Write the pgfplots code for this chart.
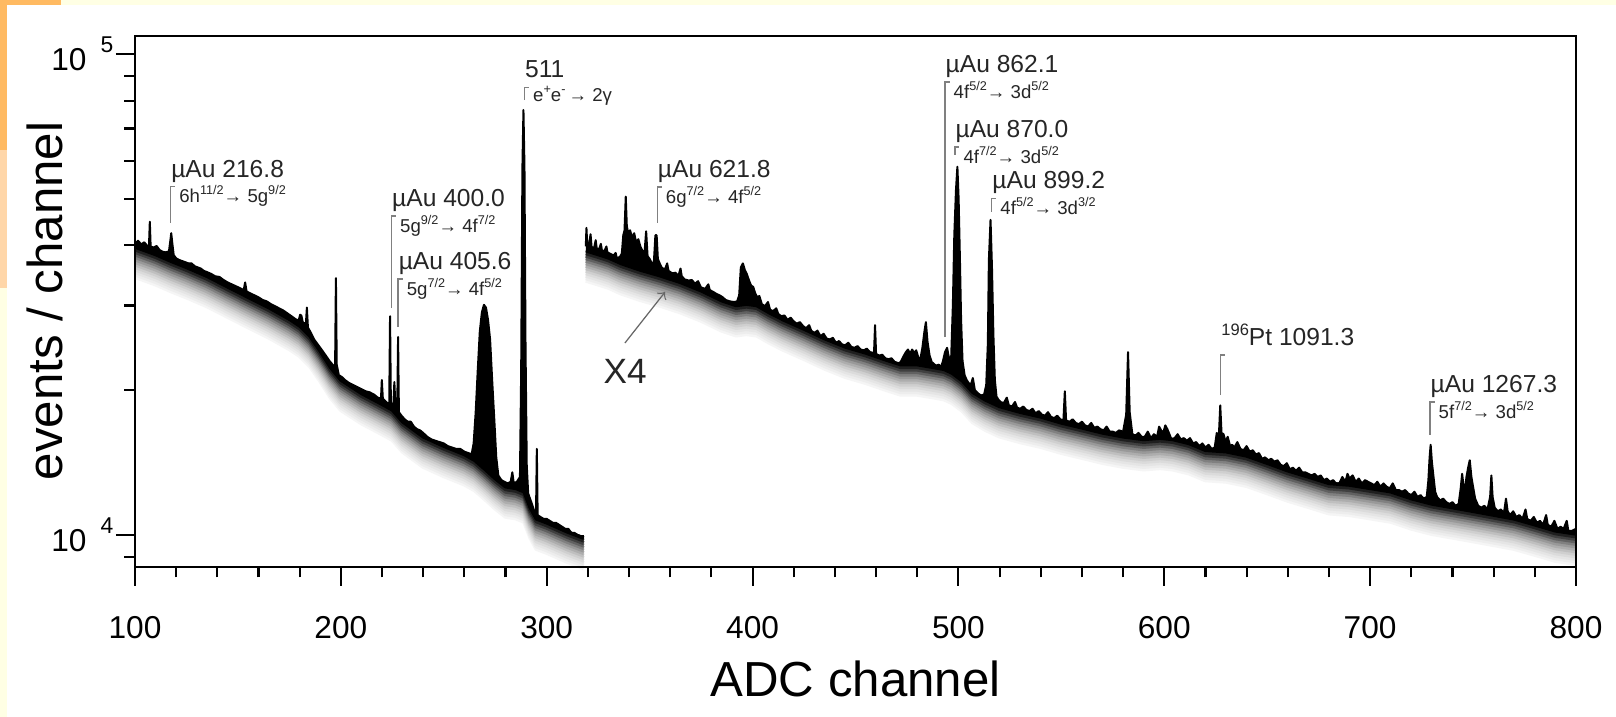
\documentclass[border=0pt]{standalone}
\usepackage{fontspec}
\setmainfont{Liberation Sans}
\usepackage{pgfplots}
\usepackage{pgfplotstable}
\pgfplotsset{compat=1.18}
\definecolor{cream}{RGB}{255,255,228}
\definecolor{orng}{RGB}{255,186,98}
\definecolor{peach}{RGB}{255,214,168}

\pgfplotstableread{
x y
100 40300
101.5 40900
103 40200
104.5 40600
106 39900
106.8 40000
107.2 44800
107.6 39800
109 39600
110.5 39900
112 39100
113.5 38800
115 38700
116.5 38900
117.2 41000
117.6 42400
118.1 40500
118.8 38200
120 37600
121.5 37300
123 37100
124.5 36900
126 36700
127.5 36700
129 36200
130.5 36000
132 35800
133.5 35400
135 35200
137 34900
139 34500
141 34400
143 33900
145 33500
147 33200
149 32900
151 32600
152.8 32300
153.5 33500
154.2 32100
156 31800
158 31500
160 31200
162 30800
164 30600
166 30200
168 29900
170 29600
172 29300
174 28900
176 28500
178 28100
179.5 27900
180.2 28700
180.8 28600
181.5 27700
183 27400
183.5 29700
184 27000
185.5 26300
187 25500
188.5 25000
190 24500
191.5 24000
193 23500
194.5 23000
196 22600
197.2 22300
197.6 34200
198 22600
199 21500
200.5 21300
202 21000
204 20700
206 20500
208 20300
210 20100
212 19900
214 19800
216 19600
218 19300
219.5 19200
219.9 21000
220.4 19200
222 18900
223.5 18700
223.9 28500
224.3 18800
225.5 18600
226 20800
226.5 18400
227.4 18300
227.8 25800
228.2 18000
229.5 17700
231 17400
232.5 17200
234 17200
235.5 16800
237 16600
238.5 16500
240 16300
242 16000
244 15800
246 15700
248 15600
250 15500
252 15300
254 15200
256 15100
258 15100
260 14900
262 14800
263.5 14700
264.5 15500
265.5 18000
266.5 22000
267.5 26500
268.5 29000
269.5 30100
270.5 29700
271.5 28000
272.5 25500
273.5 21000
274.5 17500
275.5 14500
276.5 13300
278 13000
279.5 12900
281 12800
282.5 12900
283.3 13500
284 12800
285.5 12900
287 13200
287.6 22000
288.2 58000
288.7 76500
289.2 58000
289.7 25000
290.3 14000
291 12200
292.5 11700
294 11200
294.8 11000
295.2 15100
295.6 11000
297 10900
298.5 10800
300 10800
301.5 10700
303 10600
304.5 10600
306 10500
307.5 10400
309 10300
310.5 10300
312 10100
313.5 10100
315 10000
316.5 9950
318 9950
}\specA

\pgfplotstableread{
x y
100 39700
110 38300
118 37000
125 36000
135 34500
145 32800
155 31200
165 29700
175 28100
180 27200
185 25900
190 24100
195 22300
200 21000
210 19700
220 18700
225 18200
230 17200
240 16000
250 15300
260 14700
265 14300
270 13700
275 13100
280 12600
285 12500
289 12300
292 11400
295 10800
300 10600
310 10150
318 9850
}\baseA

\pgfplotstableread{
x y
319 39800
319.3 43500
319.7 40000
320.5 39900
321.3 42200
321.8 39700
323 39500
323.8 41000
324.3 39400
325.5 39300
326.3 40300
326.8 39100
328 38900
329 39800
329.5 38700
331 38400
332.5 38100
333.5 38600
334 37700
335.5 37800
336.5 38500
337.2 42000
337.8 43000
338.4 50500
338.9 44000
339.5 42500
340.5 43000
341.5 41500
342.5 42400
343.5 40500
344.5 41200
345.5 39800
346.5 39000
347.5 38500
348.3 42800
349 38000
350 37500
351 36800
352 36500
352.8 42000
353.4 42000
354 37500
355 36600
356 35900
357.5 35700
358.5 36700
359.2 35400
361 35000
362.5 35100
364 34600
365 35800
365.6 34500
367 34000
369 33800
370.5 33900
372 33300
373.5 33700
375 32700
377 32500
378.5 33200
379.2 32300
381 32000
382.5 31700
384 31500
385.5 31200
387 30800
389 30600
391 30500
392.5 30600
393.5 31500
394.3 36000
395.3 36700
396.3 35500
397.3 34800
398.3 33800
399.3 33000
400.3 32800
401.3 31800
402.3 31200
403.3 31400
404.5 30200
406 29900
407.5 30500
408.5 29400
410 29200
411.5 29600
412.5 28800
414 28500
415.5 28600
417 28000
418.5 28300
420 27800
421.5 27500
423 27700
424.5 27200
426 26900
427.5 27300
428.5 26600
430 26300
431.5 26600
433 25900
434.5 26200
436 25600
437.5 25500
439 25700
440.5 25100
442 25300
443.5 24900
445 24800
446.5 25100
448 24600
449.5 24500
451 24700
452.5 24300
454 24200
455.5 24400
457 24000
459 23900
459.5 27300
460 23800
461.5 23600
463 23700
464.5 23300
466 23200
467.5 23300
469 22900
470.5 22700
472 22900
473.5 23600
474.5 24000
475.5 24300
476.5 23800
477.5 24300
478.5 23900
479.5 24200
480.5 23400
481.5 23200
482.5 24500
483.5 26500
484.2 27700
485 25200
486 23600
487 22900
488 22700
489 22500
490.5 22600
491.5 22300
492.5 23000
493.5 24000
494.5 24500
495.5 23200
496.5 23500
497.3 30000
498 42000
498.8 52000
499.5 58300
500.1 50000
500.7 38000
501.3 28000
502 23000
503 21500
504 21000
505 20700
506 20500
507 21200
508 20000
509.5 19700
511 19500
512.5 19600
513.5 20500
514.3 25000
514.8 37300
515.6 45200
516.3 36000
517 26000
517.7 21000
518.5 19400
519.5 19100
520.5 18900
522 18800
523.5 19300
524.5 18600
526 18500
527.5 18900
528.5 18400
530 18300
531.5 18500
533 18200
534.5 18100
536 18300
537.5 17900
539 18100
540.5 17800
542 17700
543.5 18000
545 17600
546.5 17500
548 17700
549.5 17400
551 17300
551.7 19900
552.3 17300
554 17200
555.5 17400
557 17100
558.5 17000
560 17200
561.5 16900
563 16800
564.5 17100
566 16700
567.5 16800
569 16600
570.5 16500
572 16800
573.5 16400
575 16400
576.5 16300
578 16500
580 16400
581.5 17800
582.4 24000
583.2 18000
584.5 16200
586 16100
587.5 16300
589 16000
590.5 16000
592 16400
593.5 15900
595 16200
596.5 16000
597.5 16800
598.5 16500
599.5 16300
600.5 16900
601.5 16600
602.5 16200
603.5 15800
605 15900
606.5 16200
608 15800
609.5 15900
611 15700
612.5 15900
614 15500
615.5 15600
617 15300
618.5 15500
620 15200
621.5 15400
623 15100
624.5 15200
625.5 16300
626.5 16000
627.2 18600
627.8 16300
628.8 16200
629.8 15600
630.8 16000
632 15300
633 15400
634 15200
635.5 15600
637 15100
638.5 15000
640 15300
641.5 14900
643 15000
644.5 14700
646 14800
647.5 14400
649 14500
650.5 14300
652 14400
653.5 14200
655 14300
656.5 14000
658 13900
659.5 14100
661 13700
662.5 13800
664 13600
665.5 13800
667 13500
668.5 13500
670 13400
671.5 13300
673 13400
674.5 13200
676 13300
677.5 13000
679 13100
680.5 12900
682 13000
683.5 12800
685 12800
686.5 13200
688 12900
689 13400
690 13100
691.5 13300
693 12900
694.5 13100
696 12800
697.5 13000
699 12900
700.5 12800
702 12700
703.5 12900
705 12600
706.5 12800
708 12600
709.5 12500
711 12800
712.5 12400
714 12400
715.5 12300
717 12400
718.5 12200
720 12100
721.5 12300
723 12000
724.5 12100
726 11900
727.5 12000
728.3 13000
728.9 14500
729.4 15400
730 14200
730.8 13200
731.6 12300
732.5 12000
734 11800
735.5 11900
737 11700
738.5 11600
740 11700
741.5 11500
743 11600
744 12500
744.7 13400
745.4 12600
746 12300
746.8 13200
747.6 13800
748.4 14300
749.2 13200
750 12600
751 11900
752.5 11500
754 11400
755.5 11500
757 11300
758.3 12000
758.9 13300
759.5 12000
760.5 11400
762 11200
763.5 11300
765 11100
766 11900
766.8 11200
768 11000
769.5 11200
771 10900
772.5 11000
774 10800
775.5 11300
776.3 10800
778 10700
779.5 10900
781 10600
782.5 10700
784 10500
785.5 11000
786.3 10500
788 10400
789.5 10700
791 10300
792.5 10400
794 10300
795.5 10700
796.3 10200
798 10200
800 10300
}\specB

\pgfplotstableread{
x y
319 39000
325 38300
330 37700
336 36700
345 35600
355 34600
365 33500
375 32200
385 30700
392 30000
397 30200
402 30000
408 29000
415 28000
425 26800
435 25600
445 24600
455 23900
465 23100
472 22600
480 22600
488 22300
493 22100
497 21700
502 20900
507 19800
513 19100
520 18500
530 18000
540 17600
550 17100
560 16700
570 16300
580 16000
590 15800
598 15900
604 15800
612 15500
620 15000
630 14900
640 14600
650 14100
660 13600
670 13200
680 12800
690 12700
700 12500
710 12300
720 11900
730 11600
740 11400
750 11200
760 11000
770 10800
780 10500
790 10200
800 10050
}\baseB

\newcommand{\shd}[3]{\addplot[draw=black!#1, line width=0.4mm, line join=round, forget plot] table[x=x, y expr={\thisrow{y}*#2}] {#3};}
\newcommand{\mainlab}{\fontsize{7}{8}\selectfont}
\newcommand{\sublab}{\fontsize{5.3}{6}\selectfont}
\newcommand{\spx}[1]{\raisebox{0.8ex}{\fontsize{3.6}{4}\selectfont #1}}
\newcommand{\annot}[5]{%
  \draw[black!50, line width=0.35pt] (axis cs:#1,#3) -- (axis cs:#1,#2) -- ([xshift=0.45mm]axis cs:#1,#2);
  \node[anchor=base west, inner sep=0pt, font=\mainlab, text=black!85, yshift=0.95mm] at (axis cs:#1,#2) {#4};
  \node[anchor=north west, inner sep=0pt, font=\sublab, text=black!85, xshift=0.8mm, yshift=0.17mm] at (axis cs:#1,#2) {#5};
}

\begin{document}
\begin{tikzpicture}
\fill[cream] (0,0) rectangle (161.6mm,71.7mm);
\fill[white] (0.7mm,0) rectangle (161.6mm,71.2mm);
\fill[orng] (0,56.7mm) rectangle (0.7mm,71.7mm);
\fill[peach] (0,42.9mm) rectangle (0.7mm,56.7mm);
\fill[orng] (0,71.2mm) rectangle (6.1mm,71.7mm);

\begin{axis}[
  at={(13.5mm,15.0mm)}, anchor=south west,
  width=144.1mm, height=53.1mm, scale only axis,
  xmin=100, xmax=800, ymode=log, ymin=8580, ymax=109000,
  xtick={100,200,...,800}, minor xtick={120,140,...,780},
  ytick={10000,100000},
  yticklabels={10\hspace{1.4mm}\raisebox{1.8mm}{\fontsize{6.5}{7}\selectfont 4},10\hspace{1.4mm}\raisebox{1.8mm}{\fontsize{6.5}{7}\selectfont 5}},
  minor ytick={9000,20000,30000,40000,50000,60000,70000,80000,90000},
  tick align=outside, tick pos=left,
  major tick length=1.9mm, minor tick length=1.05mm,
  tick style={black, line width=0.6pt},
  axis line style={line width=0.6pt},
  xticklabel style={font=\fontsize{9}{10}\selectfont, yshift=-1.8mm},
  yticklabel style={font=\fontsize{9}{10}\selectfont, inner sep=0pt, xshift=-0.2mm},
  /pgf/number format/assume math mode=true,
  /pgf/number format/set thousands separator={},
  clip=false, axis on top,
]
% black band between the spectrum and its smooth lower edge
\addplot[fill=black, draw=none, forget plot] table {\specA} \closedcycle;
\addplot[fill=white, draw=white, line width=0.2mm, forget plot] table[x=x, y expr={\thisrow{y}*0.99}] {\baseA} \closedcycle;
\addplot[fill=black, draw=none, forget plot] table {\specB} \closedcycle;
\addplot[fill=white, draw=white, line width=0.2mm, forget plot] table[x=x, y expr={\thisrow{y}*0.99}] {\baseB} \closedcycle;
% shadow gradient under the spectrum
\shd{4}{0.86617}{\baseA}
\shd{7}{0.87660}{\baseA}
\shd{10}{0.88716}{\baseA}
\shd{14}{0.89785}{\baseA}
\shd{19}{0.90866}{\baseA}
\shd{25}{0.91961}{\baseA}
\shd{32}{0.93068}{\baseA}
\shd{40}{0.94189}{\baseA}
\shd{50}{0.95324}{\baseA}
\shd{62}{0.96472}{\baseA}
\shd{75}{0.97634}{\baseA}
\shd{88}{0.98810}{\baseA}
\shd{4}{0.86617}{\baseB}
\shd{7}{0.87660}{\baseB}
\shd{10}{0.88716}{\baseB}
\shd{14}{0.89785}{\baseB}
\shd{19}{0.90866}{\baseB}
\shd{25}{0.91961}{\baseB}
\shd{32}{0.93068}{\baseB}
\shd{40}{0.94189}{\baseB}
\shd{50}{0.95324}{\baseB}
\shd{62}{0.96472}{\baseB}
\shd{75}{0.97634}{\baseB}
\shd{88}{0.98810}{\baseB}
% spectrum
\addplot[draw=black, line width=0.35mm, line join=round] table {\baseA};
\addplot[draw=black, line width=0.2mm, line join=round] table {\specA};
\addplot[draw=black, line width=0.35mm, line join=round] table {\baseB};
\addplot[draw=black, line width=0.2mm, line join=round] table {\specB};

% annotations
\annot{117.3}{52980}{44530}{µAu 216.8}{6h\spx{11/2}→ 5g\spx{9/2}}
\annot{224.6}{46050}{29640}{µAu 400.0}{5g\spx{9/2}→ 4f\spx{7/2}}
\annot{227.8}{34060}{27060}{µAu 405.6}{5g\spx{7/2}→ 4f\spx{5/2}}
\annot{289.2}{85200}{80220}{511}{e\spx{+}e\spx{-}\,→ 2γ}
\annot{353.7}{52900}{44530}{µAu 621.8}{6g\spx{7/2}→ 4f\spx{5/2}}
\annot{493.5}{87460}{25790}{µAu 862.1}{4f\spx{5/2}→ 3d\spx{5/2}}
\annot{498.3}{64080}{61670}{µAu 870.0}{4f\spx{7/2}→ 3d\spx{5/2}}
\annot{516.2}{50070}{46940}{µAu 899.2}{4f\spx{5/2}→ 3d\spx{3/2}}
\annot{627.4}{23670}{19540}{\raisebox{0.8ex}{\fontsize{4.7}{5}\selectfont 196}Pt 1091.3}{}
\annot{729.1}{18900}{16140}{µAu 1267.3}{5f\spx{7/2}→ 3d\spx{5/2}}

\node[anchor=base west, inner sep=0pt, font=\fontsize{10}{11}\selectfont, text=black!85] at (axis cs:327.3,20700) {X4};
\draw[black!60, line width=0.35pt, ->] (axis cs:338.0,25070) -- (axis cs:357.5,32000);
\end{axis}

\node[anchor=base, inner sep=0pt, font=\fontsize{14}{16}\selectfont] at (85.55mm,2.0mm) {ADC channel};
\node[anchor=base, rotate=90, inner sep=0pt, font=\fontsize{14}{16}\selectfont] at (6.2mm,41.6mm) {events / channel};
\pgfresetboundingbox
\path[use as bounding box] (0,0) rectangle (161.6mm,71.7mm);
\end{tikzpicture}
\end{document}
